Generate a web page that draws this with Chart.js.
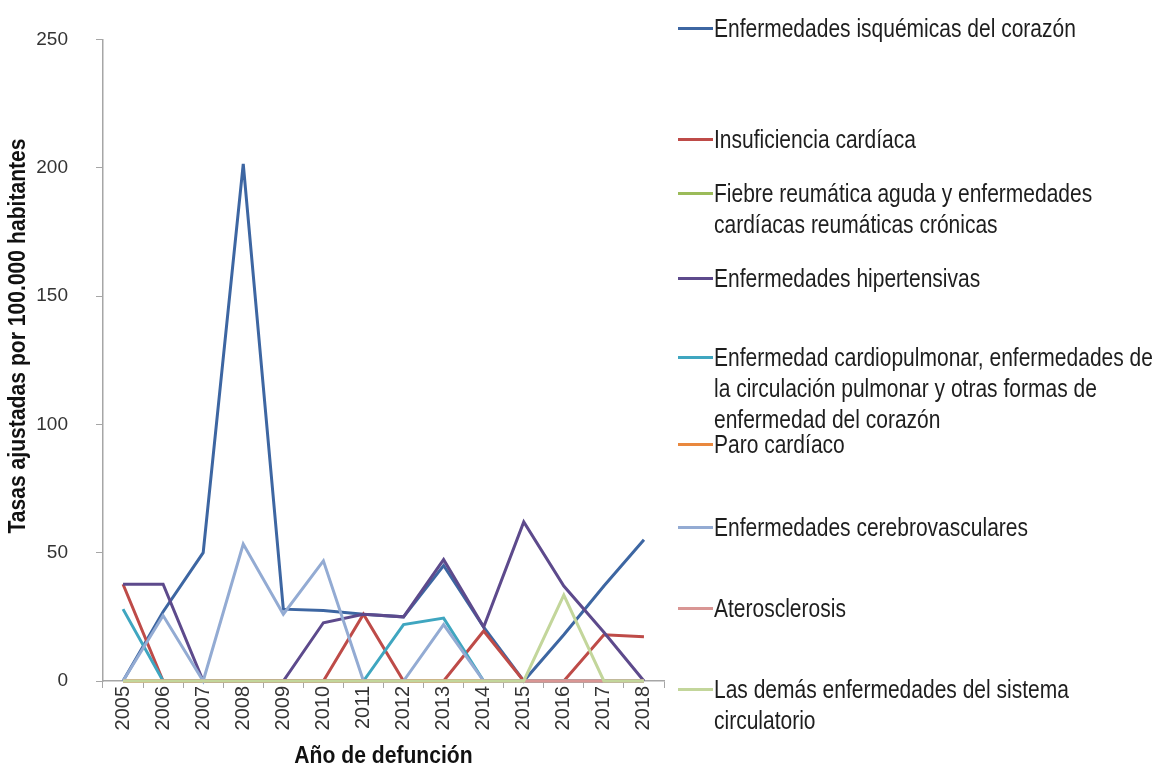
<!DOCTYPE html>
<html>
<head>
<meta charset="utf-8">
<script src="https://cdn.jsdelivr.net/npm/chart.js@4"></script>
<style>
body{margin:0;background:#fff;}
#wrap{position:relative;width:1163px;height:769px;}
#leyenda{position:absolute;left:0;top:0;width:1163px;height:769px;pointer-events:none;
  font-family:'Liberation Sans',Arial,sans-serif;font-size:25px;color:#1e1e1e;}
.item{position:absolute;left:678px;height:31px;}
.linea{position:absolute;left:0;top:14px;width:35px;height:3px;}
.texto{position:absolute;left:36px;top:0;white-space:pre;line-height:31px;
  transform:scaleX(0.84);transform-origin:0 0;}
</style>
</head>
<body>
<div id="wrap">
<canvas id="myCanvas"></canvas>
<div id="leyenda"></div>
</div>
<script>
const CANVAS_WIDTH = 1163;
const CANVAS_HEIGHT = 769;

var anios = ['2005','2006','2007','2008','2009','2010','2011','2012','2013','2014','2015','2016','2017','2018'];

// nombres de las series, con el corte de linea de la leyenda original
var nombres = [
  'Enfermedades isquémicas del corazón',
  'Insuficiencia cardíaca',
  'Fiebre reumática aguda y enfermedades\ncardíacas reumáticas crónicas',
  'Enfermedades hipertensivas',
  'Enfermedad cardiopulmonar, enfermedades de\nla circulación pulmonar y otras formas de\nenfermedad del corazón',
  'Paro cardíaco',
  'Enfermedades cerebrovasculares',
  'Aterosclerosis',
  'Las demás enfermedades del sistema\ncirculatorio'
];

var titulo_x = 'Año de defunción';
var titulo_y = 'Tasas ajustadas por 100.000 habitantes';

// tasas por serie
var isquemicas     = [0, 27, 50, 201.5, 28, 27.5, 26, 25, 45, 21, 0, 18, 37, 55];
var insuficiencia  = [37.7, 0, 0, 0, 0, 0, 26, 0, 0, 19.5, 0, 0, 18, 17.2];
var fiebre         = [0, 0, 0, 0, 0, 0, 0, 0, 0, 0, 0, 0, 0, 0];
var hipertensivas  = [37.7, 37.7, 0, 0, 0, 22.7, 26, 25, 47.3, 21, 62, 37, 19, 0];
var cardiopulmonar = [28, 0, 0, 0, 0, 0, 0, 22, 24.5, 0, 0, 0, 0, 0];
var paro           = [0, 0, 0, 0, 0, 0, 0, 0, 0, 0, 0, 0, 0, 0];
var cerebro        = [0, 25.5, 0, 53.4, 26, 46.8, 0, 0, 22, 0, 0, 0, 0, 0];
var atero          = [0, 0, 0, 0, 0, 0, 0, 0, 0, 0, 0, 0, 0, 0];
var demas          = [0, 0, 0, 0, 0, 0, 0, 0, 0, 0, 0, 33.5, 0, 0];

var series = [isquemicas, insuficiencia, fiebre, hipertensivas, cardiopulmonar, paro, cerebro, atero, demas];
var colores = ['#3D66A2', '#BE4B48', '#9BBB59', '#5D4A8C', '#3FA6C0', '#E9883E', '#93ABD3', '#D99694', '#C3D69B'];

// centro vertical de la primera linea de cada entrada de la leyenda
var leyenda_y = [28, 139, 193, 278, 357, 444, 527, 608, 689];

var datasets = [];
for (var i = 0; i < series.length; i++) {
  datasets.push({
    label: nombres[i].replace(/\n/g, ' '),
    data: series[i],
    borderColor: colores[i],
    backgroundColor: colores[i],
    borderWidth: 3,
    pointRadius: 0,
    tension: 0,
    clip: false,
    order: series.length - i  // la ultima serie queda encima, como en Excel
  });
}

// titulos de ejes en letra estrecha (no hay Arial Narrow, se comprime a mano)
function texto_estrecho(ctx, texto, x, y, rot){
  ctx.save();
  ctx.translate(x, y);
  ctx.rotate(rot);
  ctx.scale(0.88, 1);
  ctx.font = 'bold 24px "Liberation Sans", Arial, sans-serif';
  ctx.fillStyle = '#111';
  ctx.textAlign = 'center';
  ctx.textBaseline = 'middle';
  ctx.fillText(texto, 0, 0);
  ctx.restore();
}

var titulos_plugin = {
  id: 'titulos',
  afterDraw: function(chart){
    var ctx = chart.ctx;
    var xs = chart.scales.x;
    texto_estrecho(ctx, titulo_x, (xs.left + xs.right) / 2, 756, 0);
    texto_estrecho(ctx, titulo_y, 18, 336, -Math.PI / 2);
  }
};

var chart_config = {
  type: 'line',
  data: { labels: anios, datasets: datasets },
  options: {
    responsive: true,
    maintainAspectRatio: false,
    animation: false,
    layout: { padding: { left: 0, top: 24, right: 499, bottom: 0 } },
    plugins: { legend: { display: false }, tooltip: { enabled: false } },
    scales: {
      x: {
        offset: true,
        grid: { offset: true, drawOnChartArea: false, tickLength: 7, color: '#A6A6A6' },
        border: { color: '#A6A6A6', width: 1.5 },
        ticks: { minRotation: 90, maxRotation: 90, padding: -2, color: '#333',
                 font: { family: 'Liberation Sans', size: 20 } },
        afterFit: function(scale){ scale.height = 88; }
      },
      y: {
        min: 0, max: 250,
        grid: { drawOnChartArea: false, tickLength: 7, color: '#A6A6A6' },
        border: { color: '#A6A6A6', width: 1.5 },
        ticks: { stepSize: 50, padding: 28, color: '#333',
                 font: { family: 'Liberation Sans', size: 19 } },
        afterFit: function(scale){ scale.width = 103; }
      }
    }
  },
  plugins: [titulos_plugin]
};

var ctx = document.getElementById('myCanvas').getContext('2d');
var chart = new Chart(ctx, chart_config);

// leyenda a mano, a la derecha
var ley = document.getElementById('leyenda');
for (var j = 0; j < nombres.length; j++) {
  var d = document.createElement('div');
  d.className = 'item';
  d.style.top = (leyenda_y[j] - 15.5) + 'px';
  var l = document.createElement('span');
  l.className = 'linea';
  l.style.background = colores[j];
  var t = document.createElement('span');
  t.className = 'texto';
  t.textContent = nombres[j];
  d.appendChild(l);
  d.appendChild(t);
  ley.appendChild(d);
}
</script>
</body>
</html>
